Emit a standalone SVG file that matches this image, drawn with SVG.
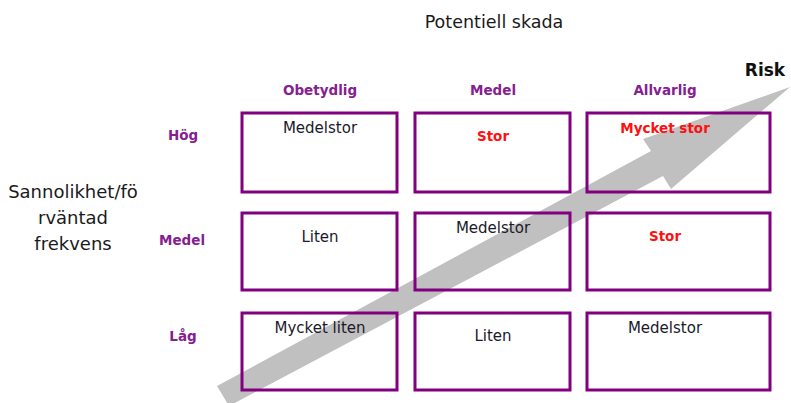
<svg xmlns="http://www.w3.org/2000/svg" width="791" height="403" viewBox="0 0 791 403">
<style>
.box{fill:none;stroke:#800080;stroke-width:3}
.t{font-family:"DejaVu Sans",sans-serif;text-anchor:middle}
.lbl{font-size:18px;fill:#1a1a1a}
.hdr{font-size:13.5px;font-weight:bold;fill:#862090}
.cell{font-size:15px;fill:#1a1a2a}
.red{font-size:13.5px;font-weight:bold;fill:#ff1010}
</style>
<rect width="791" height="403" fill="#ffffff"/>
<g id="arrow">
<polygon points="217,386 229,406 663,176 671,189 790,87 643,139 651,151" fill="#c0c0c0"/>
</g>
<g id="titles">
<text class="t lbl" x="494" y="28" style="font-size:17.5px">Potentiell skada</text>
<text class="t" x="765" y="76" style="font-size:17px;font-weight:bold;fill:#111">Risk</text>
<text class="t lbl" x="73" y="198">Sannolikhet/fö</text>
<text class="t lbl" x="73" y="224">rväntad</text>
<text class="t lbl" x="73" y="250">frekvens</text>
</g>
<g id="col-headers">
<text class="t hdr" x="320" y="95">Obetydlig</text>
<text class="t hdr" x="493" y="95">Medel</text>
<text class="t hdr" x="665" y="95">Allvarlig</text>
</g>
<g id="row-headers">
<text class="t hdr" x="183" y="140">Hög</text>
<text class="t hdr" x="182" y="245">Medel</text>
<text class="t hdr" x="183" y="341">Låg</text>
</g>
<g id="cell-r1c1"><rect class="box" x="242" y="113" width="155" height="79"/><text class="t cell" x="320" y="133">Medelstor</text></g>
<g id="cell-r1c2"><rect class="box" x="415" y="113" width="155" height="79"/><text class="t red" x="493" y="141">Stor</text></g>
<g id="cell-r1c3"><rect class="box" x="587" y="113" width="183" height="79"/><text class="t red" x="665" y="133">Mycket stor</text></g>
<g id="cell-r2c1"><rect class="box" x="242" y="213" width="155" height="77"/><text class="t cell" x="320" y="242">Liten</text></g>
<g id="cell-r2c2"><rect class="box" x="415" y="213" width="155" height="77"/><text class="t cell" x="493" y="233">Medelstor</text></g>
<g id="cell-r2c3"><rect class="box" x="587" y="213" width="183" height="77"/><text class="t red" x="665" y="241">Stor</text></g>
<g id="cell-r3c1"><rect class="box" x="242" y="313" width="155" height="77"/><text class="t cell" x="320" y="333">Mycket liten</text></g>
<g id="cell-r3c2"><rect class="box" x="415" y="313" width="155" height="77"/><text class="t cell" x="493" y="341">Liten</text></g>
<g id="cell-r3c3"><rect class="box" x="587" y="313" width="183" height="77"/><text class="t cell" x="665" y="333">Medelstor</text></g>
</svg>
